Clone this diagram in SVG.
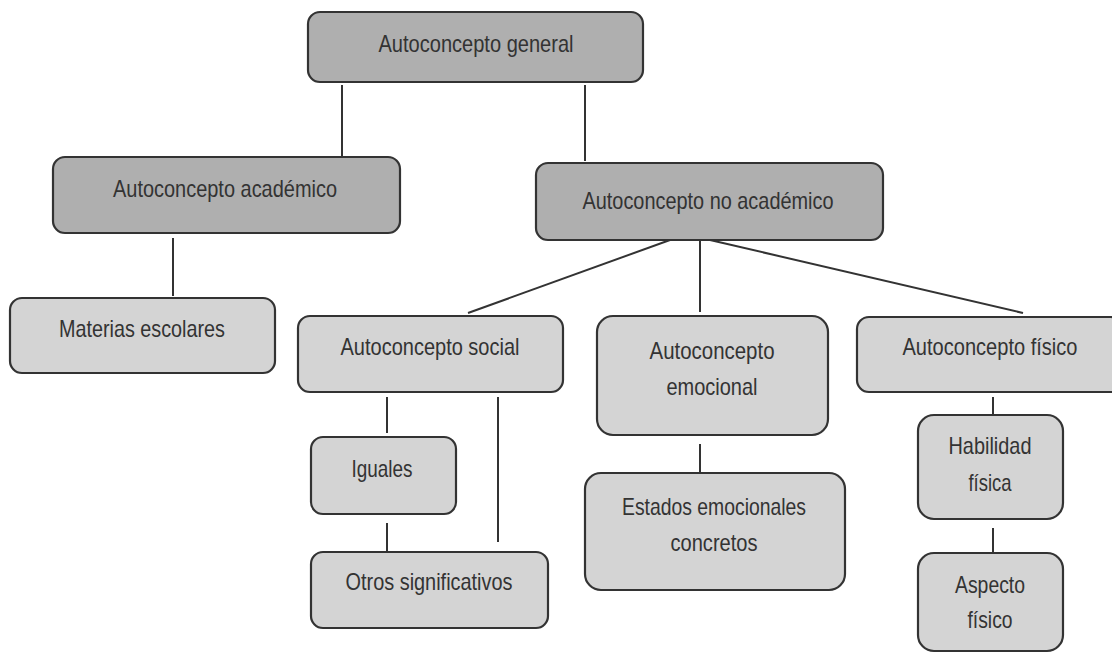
<svg xmlns="http://www.w3.org/2000/svg" width="1112" height="655" viewBox="0 0 1112 655">
<style>
.dark{fill:#afafaf;stroke:#333;stroke-width:2.2}
.light{fill:#d4d4d4;stroke:#333;stroke-width:2.2}
text{font-family:"Liberation Sans",Arial,sans-serif;font-size:24px;fill:#333;text-anchor:middle}
.conn line{stroke:#333;stroke-width:2}
</style>
<rect width="1112" height="655" fill="#fff"/>
<g class="conn">
<line x1="342" y1="85" x2="342" y2="156"/>
<line x1="585" y1="85" x2="585" y2="161"/>
<line x1="173" y1="238" x2="173" y2="296"/>
<line x1="670" y1="240" x2="468" y2="313"/>
<line x1="700" y1="241" x2="700" y2="312"/>
<line x1="710" y1="240" x2="1023" y2="313"/>
<line x1="387" y1="397" x2="387" y2="433"/>
<line x1="498" y1="397" x2="498" y2="542"/>
<line x1="387" y1="523" x2="387" y2="552"/>
<line x1="700" y1="444" x2="700" y2="473"/>
<line x1="993" y1="397" x2="993" y2="415"/>
<line x1="993" y1="528" x2="993" y2="553"/>
</g>
<g id="general"><rect class="dark" x="308" y="12" width="335" height="70" rx="12"/><text x="476" y="52" textLength="195" lengthAdjust="spacingAndGlyphs">Autoconcepto general</text></g>
<g id="academico"><rect class="dark" x="53" y="157" width="347" height="76" rx="12"/><text x="225" y="197" textLength="224" lengthAdjust="spacingAndGlyphs">Autoconcepto académico</text></g>
<g id="noacademico"><rect class="dark" x="536" y="163" width="347" height="77" rx="12"/><text x="708" y="209" textLength="251" lengthAdjust="spacingAndGlyphs">Autoconcepto no académico</text></g>
<g id="materias"><rect class="light" x="10" y="298" width="265" height="75" rx="12"/><text x="142" y="337" textLength="166" lengthAdjust="spacingAndGlyphs">Materias escolares</text></g>
<g id="social"><rect class="light" x="298" y="316" width="265" height="76" rx="12"/><text x="430" y="355" textLength="179" lengthAdjust="spacingAndGlyphs">Autoconcepto social</text></g>
<g id="iguales"><rect class="light" x="311" y="437" width="145" height="77" rx="12"/><text x="382" y="477" textLength="61" lengthAdjust="spacingAndGlyphs">Iguales</text></g>
<g id="otros"><rect class="light" x="311" y="552" width="237" height="76" rx="12"/><text x="429" y="590" textLength="167" lengthAdjust="spacingAndGlyphs">Otros significativos</text></g>
<g id="emocional"><rect class="light" x="597" y="316" width="231" height="119" rx="16"/><text x="712" y="359" textLength="125" lengthAdjust="spacingAndGlyphs">Autoconcepto</text><text x="712" y="395" textLength="91" lengthAdjust="spacingAndGlyphs">emocional</text></g>
<g id="estados"><rect class="light" x="585" y="473" width="260" height="117" rx="16"/><text x="714" y="515" textLength="184" lengthAdjust="spacingAndGlyphs">Estados emocionales</text><text x="714" y="551" textLength="87" lengthAdjust="spacingAndGlyphs">concretos</text></g>
<g id="fisico"><rect class="light" x="857" y="317" width="266" height="75" rx="12"/><text x="990" y="355" textLength="175" lengthAdjust="spacingAndGlyphs">Autoconcepto físico</text></g>
<g id="habilidad"><rect class="light" x="918" y="415" width="145" height="104" rx="16"/><text x="990" y="454" textLength="83" lengthAdjust="spacingAndGlyphs">Habilidad</text><text x="990" y="491" textLength="43" lengthAdjust="spacingAndGlyphs">física</text></g>
<g id="aspecto"><rect class="light" x="918" y="553" width="145" height="98" rx="16"/><text x="990" y="593" textLength="70" lengthAdjust="spacingAndGlyphs">Aspecto</text><text x="990" y="628" textLength="45" lengthAdjust="spacingAndGlyphs">físico</text></g>
</svg>
